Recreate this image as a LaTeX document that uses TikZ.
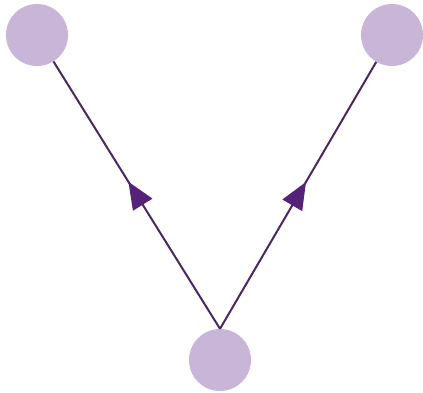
\documentclass[tikz,border=0pt]{standalone}
\usetikzlibrary{calc}
\definecolor{ballfill}{HTML}{C8B5D8}
\definecolor{linkcol}{HTML}{4A2763}
\definecolor{tipcol}{HTML}{55227A}
\tikzset{
  ball/.style={circle,fill=ballfill,draw=none,minimum size=62pt,inner sep=0pt},
  link/.style={draw=linkcol,line width=2pt},
  headtip/.style={fill=tipcol,draw=none}
}
\begin{document}
\begin{tikzpicture}[x=1pt,y=-1pt]
\useasboundingbox (0,0) rectangle (423,392);
\node[ball] (tl) at (37,35) {};
\node[ball] (tr) at (392,35) {};
\node[ball] (b) at (220,360) {};
\draw[link] (b.north) -- (tl) coordinate[pos=0.45] (la) coordinate[pos=0.55] (lb);
\draw[link] (b.north) -- (tr) coordinate[pos=0.45] (ra) coordinate[pos=0.55] (rb);
\coordinate (lc) at ($(lb)!27pt!(la)$);
\coordinate (rc) at ($(rb)!27pt!(ra)$);
\fill[headtip] (lb) -- ($(lc)!11.5pt!90:(lb)$) -- ($(lc)!11.5pt!-90:(lb)$) -- cycle;
\fill[headtip] (rb) -- ($(rc)!11.5pt!90:(rb)$) -- ($(rc)!11.5pt!-90:(rb)$) -- cycle;
\end{tikzpicture}
\end{document}
